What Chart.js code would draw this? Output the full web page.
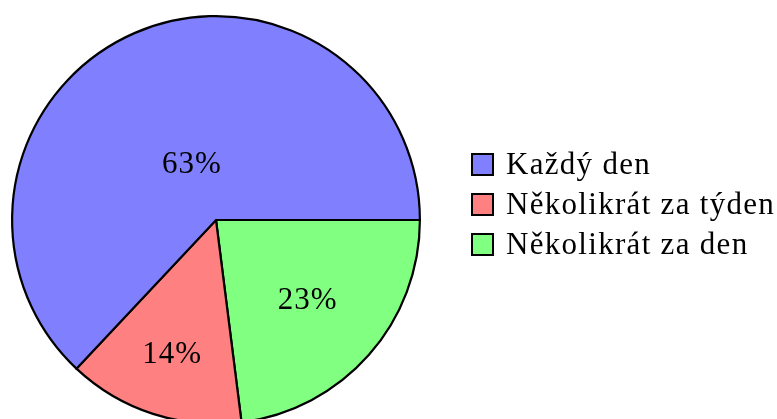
<!DOCTYPE html>
<html>
<head>
<meta charset="utf-8">
<script src="https://cdn.jsdelivr.net/npm/chart.js@4"></script>
<style>
  html, body { margin: 0; padding: 0; background: #fff; overflow: hidden; }
  #wrap { position: relative; width: 777px; height: 419px; overflow: hidden; }
  #wrap canvas { position: absolute; left: 0; top: 0; }
  .legend { position: absolute; left: 471px; top: 144px; font-family: "Liberation Serif", serif; font-size: 31px; letter-spacing: 1.3px; color: #000; }
  .legend-row { display: flex; align-items: center; height: 40px; }
  .legend-box { width: 19px; height: 19px; border: 2px solid #000; margin-right: 12px; box-sizing: content-box; }
</style>
</head>
<body>
<div id="wrap">
  <canvas id="pie" width="777" height="440"></canvas>
  <div class="legend" id="legend"></div>
</div>
<script>
// ── data ──
const categories = ['Každý den', 'Několikrát za týden', 'Několikrát za den'];
const shares     = [63, 14, 23];

// ── style ──
const COLORS    = ['#8080ff', '#ff8080', '#80ff80'];
const LABEL_POS = [0.296, 0.695, 0.60];   // label distance as fraction of radius
const SERIF     = '"Liberation Serif", serif';

// slices are drawn clockwise from 3 o'clock: green, red, blue
const order = [2, 1, 0];

const pctLabels = {
  id: 'pctLabels',
  afterDatasetsDraw(chart) {
    const ctx  = chart.ctx;
    const meta = chart.getDatasetMeta(0);
    ctx.save();
    ctx.font = '31px ' + SERIF;
    ctx.letterSpacing = '1px';
    ctx.fillStyle = '#000';
    ctx.textAlign = 'center';
    ctx.textBaseline = 'middle';
    meta.data.forEach((arc, k) => {
      const i   = order[k];
      const mid = (arc.startAngle + arc.endAngle) / 2;
      const r   = arc.outerRadius * LABEL_POS[i];
      ctx.fillText(shares[i] + '%', arc.x + Math.cos(mid) * r, arc.y + Math.sin(mid) * r);
    });
    ctx.restore();
  }
};

new Chart(document.getElementById('pie').getContext('2d'), {
  type: 'pie',
  data: {
    labels: order.map(i => categories[i]),
    datasets: [{
      data: order.map(i => shares[i]),
      backgroundColor: order.map(i => COLORS[i]),
      borderColor: '#000',
      borderWidth: 2.2,
      borderJoinStyle: 'miter'
    }]
  },
  options: {
    responsive: false,
    animation: false,
    rotation: 90,
    layout: { padding: { left: 11, top: 15, right: 356, bottom: 15 } },
    plugins: { legend: { display: false }, tooltip: { enabled: false } }
  },
  plugins: [pctLabels]
});

// legend in the original order
document.getElementById('legend').innerHTML = categories.map((c, i) =>
  `<div class="legend-row"><span class="legend-box" style="background:${COLORS[i]}"></span><span>${c}</span></div>`
).join('');
</script>
</body>
</html>
